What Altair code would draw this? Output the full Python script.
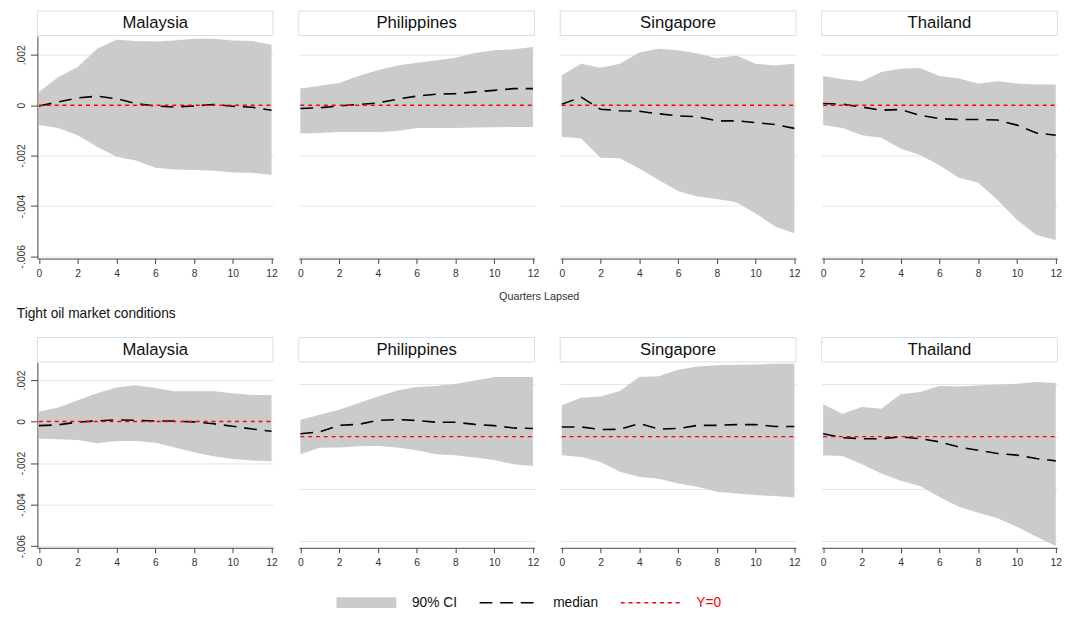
import altair as alt
import pandas as pd

FONT = "Liberation Sans"

quarters = list(range(13))
countries = ["Malaysia", "Philippines", "Singapore", "Thailand"]
row_title = "Tight oil market conditions"
x_title = "Quarters Lapsed"
legend_labels = ["90% CI", "median", "Y=0"]
x_ticks = [0, 2, 4, 6, 8, 10, 12]
y_ticks_full = [-0.006, -0.004, -0.002, 0, 0.002]
y_ticks_short = [-0.004, -0.002, 0, 0.002]

# ---- Top row ----
top_malaysia_hi = [0.00053, 0.00112, 0.00152, 0.00224, 0.00260, 0.00255, 0.00253, 0.00257, 0.00264, 0.00264, 0.00257, 0.00255, 0.00240]
top_malaysia_lo = [-0.00079, -0.00090, -0.00119, -0.00165, -0.00205, -0.00220, -0.00248, -0.00255, -0.00257, -0.00260, -0.00267, -0.00268, -0.00277]
top_malaysia_med = [-0.00003, 0.00013, 0.00029, 0.00036, 0.00026, 0.00007, -0.00003, -0.00007, -0.00003, 0.00003, -0.00004, -0.00008, -0.00020]

top_philippines_hi = [0.00066, 0.00077, 0.00088, 0.00116, 0.00139, 0.00158, 0.00169, 0.00178, 0.00189, 0.00207, 0.00218, 0.00222, 0.00231]
top_philippines_lo = [-0.00112, -0.00110, -0.00106, -0.00106, -0.00106, -0.00102, -0.00090, -0.00090, -0.00090, -0.00088, -0.00087, -0.00086, -0.00086]
top_philippines_med = [-0.00013, -0.00010, -0.00003, 0.00003, 0.00009, 0.00024, 0.00036, 0.00044, 0.00046, 0.00053, 0.00059, 0.00066, 0.00066]

top_singapore_hi = [0.00119, 0.00165, 0.00149, 0.00165, 0.00209, 0.00224, 0.00218, 0.00205, 0.00187, 0.00198, 0.00165, 0.00158, 0.00165]
top_singapore_lo = [-0.00125, -0.00132, -0.00209, -0.00211, -0.00251, -0.00297, -0.00341, -0.00363, -0.00372, -0.00385, -0.00429, -0.00482, -0.00508]
top_singapore_med = [0.00004, 0.00032, -0.00016, -0.00022, -0.00024, -0.00034, -0.00042, -0.00046, -0.00062, -0.00062, -0.00069, -0.00077, -0.00092]

top_thailand_hi = [0.00116, 0.00103, 0.00095, 0.00132, 0.00145, 0.00148, 0.00116, 0.00106, 0.00086, 0.00095, 0.00086, 0.00082, 0.00082]
top_thailand_lo = [-0.00079, -0.00090, -0.00119, -0.00129, -0.00172, -0.00198, -0.00238, -0.00288, -0.00308, -0.00376, -0.00455, -0.00515, -0.00535]
top_thailand_med = [0.00007, 0.00004, -0.00007, -0.00020, -0.00017, -0.00040, -0.00053, -0.00057, -0.00057, -0.00059, -0.00079, -0.00110, -0.00119]

# ---- Bottom row: tight oil market conditions ----
tight_malaysia_hi = [0.00047, 0.00067, 0.00102, 0.00136, 0.00164, 0.00175, 0.00161, 0.00145, 0.00145, 0.00145, 0.00136, 0.00128, 0.00128]
tight_malaysia_lo = [-0.00083, -0.00086, -0.00089, -0.00105, -0.00094, -0.00094, -0.00102, -0.00125, -0.00148, -0.00167, -0.00180, -0.00188, -0.00191]
tight_malaysia_med = [-0.00020, -0.00016, -0.00003, 0.00003, 0.00008, 0.00006, 0.00002, 0.00002, -0.00002, -0.00011, -0.00023, -0.00036, -0.00047]

tight_philippines_hi = [0.00065, 0.00084, 0.00103, 0.00129, 0.00154, 0.00177, 0.00190, 0.00194, 0.00202, 0.00215, 0.00228, 0.00228, 0.00228]
tight_philippines_lo = [-0.00068, -0.00043, -0.00042, -0.00037, -0.00036, -0.00042, -0.00052, -0.00068, -0.00071, -0.00080, -0.00090, -0.00106, -0.00113]
tight_philippines_med = [0.00011, 0.00018, 0.00043, 0.00047, 0.00062, 0.00065, 0.00062, 0.00055, 0.00055, 0.00047, 0.00042, 0.00033, 0.00031]

tight_singapore_hi = [0.00120, 0.00149, 0.00154, 0.00175, 0.00228, 0.00231, 0.00256, 0.00269, 0.00273, 0.00275, 0.00276, 0.00279, 0.00279]
tight_singapore_lo = [-0.00071, -0.00078, -0.00097, -0.00135, -0.00154, -0.00161, -0.00180, -0.00192, -0.00211, -0.00218, -0.00224, -0.00228, -0.00233]
tight_singapore_med = [0.00037, 0.00037, 0.00027, 0.00028, 0.00050, 0.00029, 0.00031, 0.00043, 0.00043, 0.00046, 0.00046, 0.00039, 0.00039]

tight_thailand_hi = [0.00124, 0.00088, 0.00113, 0.00107, 0.00162, 0.00171, 0.00194, 0.00192, 0.00196, 0.00200, 0.00203, 0.00209, 0.00205]
tight_thailand_lo = [-0.00071, -0.00074, -0.00106, -0.00141, -0.00169, -0.00189, -0.00231, -0.00269, -0.00292, -0.00313, -0.00345, -0.00384, -0.00419]
tight_thailand_med = [0.00011, -0.00004, -0.00008, -0.00008, -0.00001, -0.00008, -0.00020, -0.00040, -0.00052, -0.00065, -0.00071, -0.00084, -0.00093]

top_domain = [-0.00609, 0.00275]
tight_domain_first = [-0.00608, 0.00284]
tight_domain_other = [-0.00426, 0.00284]

W = 240.4
SP = 19.6
GRID = "#e4e4e4"
AXC = "#444444"
LABC = "#333333"
CI_FILL = "#cbcbcb"

y_label_expr = ("datum.value == 0 ? '0' : (datum.value < 0 ? '-' : '') + "
                "replace(format(abs(datum.value), '.3f'), '0.', '.')")


def panel(name, lo, hi, med, domain, yticks, height, show_y):
    df = pd.DataFrame({"q": quarters, "lo": lo, "hi": hi, "med": med})
    xenc = alt.X(
        "q:Q",
        scale=alt.Scale(domain=[-0.08, 12.08], nice=False, zero=False),
        axis=alt.Axis(values=x_ticks, title=None, grid=False, tickSize=5,
                      labelPadding=5.5, labelFontSize=10.5, labelFont=FONT,
                      labelColor=LABC, domainColor=AXC, tickColor=AXC,
                      labelFlush=False, format="d"),
    )
    yscale = alt.Scale(domain=domain, nice=False, zero=False)
    if show_y:
        yaxis = alt.Axis(values=yticks, title=None, grid=True, gridColor=GRID,
                         labelAngle=270, labelAlign="center", labelBaseline="bottom",
                         labelPadding=4, tickSize=7, labelExpr=y_label_expr,
                         labelFontSize=10.5, labelFont=FONT, labelColor=LABC,
                         domainColor=AXC, tickColor=AXC)
    else:
        yaxis = alt.Axis(values=yticks, title=None, grid=True, gridColor=GRID,
                         labels=False, ticks=False, domain=False)
    area = alt.Chart(df).mark_area(color=CI_FILL, opacity=1).encode(
        x=xenc, y=alt.Y("lo:Q", scale=yscale, axis=yaxis), y2="hi:Q")
    line = alt.Chart(df).mark_line(color="black", strokeDash=[13, 8], strokeWidth=1.6).encode(
        x="q:Q", y="med:Q")
    hdr = pd.DataFrame({"name": [name]})
    zero = alt.Chart(hdr).mark_rule(color="red", strokeDash=[4, 4], strokeWidth=1.4).encode(
        x=alt.datum(0), x2=alt.datum(12), y=alt.datum(0))
    box = alt.Chart(hdr).mark_rect(fill="white", stroke="#d3dee9", strokeWidth=1).encode(
        x=alt.value(0), x2=alt.value(W), y=alt.value(-25.5), y2=alt.value(-0.5))
    txt = alt.Chart(hdr).mark_text(fontSize=17, font=FONT, color="#111111").encode(
        text="name:N", x=alt.value(W / 2), y=alt.value(-13))
    return alt.layer(area, line, zero, box, txt).properties(width=W, height=height)


top_data = [
    (top_malaysia_lo, top_malaysia_hi, top_malaysia_med),
    (top_philippines_lo, top_philippines_hi, top_philippines_med),
    (top_singapore_lo, top_singapore_hi, top_singapore_med),
    (top_thailand_lo, top_thailand_hi, top_thailand_med),
]
tight_data = [
    (tight_malaysia_lo, tight_malaysia_hi, tight_malaysia_med),
    (tight_philippines_lo, tight_philippines_hi, tight_philippines_med),
    (tight_singapore_lo, tight_singapore_hi, tight_singapore_med),
    (tight_thailand_lo, tight_thailand_hi, tight_thailand_med),
]

top_panels = [
    panel(c, lo, hi, md, top_domain, y_ticks_full, 227, i == 0)
    for i, (c, (lo, hi, md)) in enumerate(zip(countries, top_data))
]
tight_panels = [
    panel(c, lo, hi, md,
          tight_domain_first if i == 0 else tight_domain_other,
          y_ticks_full if i == 0 else y_ticks_short, 189, i == 0)
    for i, (c, (lo, hi, md)) in enumerate(zip(countries, tight_data))
]

top_row = alt.hconcat(*top_panels, spacing=SP).resolve_scale(
    x="independent", y="independent").properties(
    title=alt.TitleParams(x_title, orient="bottom", anchor="middle", fontSize=11,
                          fontWeight="normal", font=FONT, color=LABC, offset=12))

tight_row = alt.hconcat(*tight_panels, spacing=SP).resolve_scale(
    x="independent", y="independent").properties(
    title=alt.TitleParams(row_title, orient="top", anchor="start", fontSize=14,
                          fontWeight="normal", font=FONT, color="#111111", offset=16))

# ---- legend ----
one = pd.DataFrame({"label": legend_labels})
LW = 900
LY = 29
DX = -23
txt_style = dict(align="left", baseline="middle", fontSize=14, font=FONT)
leg_rect = alt.Chart(one.iloc[[0]]).mark_rect(fill=CI_FILL).encode(
    x=alt.value(328 + DX), x2=alt.value(389 + DX), y=alt.value(LY - 5.5), y2=alt.value(LY + 5.5))
leg_t1 = alt.Chart(one.iloc[[0]]).mark_text(color="#111111", **txt_style).encode(
    text="label:N", x=alt.value(405 + DX), y=alt.value(LY))
leg_dash = alt.Chart(one.iloc[[1]]).mark_rule(color="black", strokeDash=[13, 8], strokeWidth=1.6).encode(
    x=alt.value(474 + DX), x2=alt.value(533 + DX), y=alt.value(LY))
leg_t2 = alt.Chart(one.iloc[[1]]).mark_text(color="#111111", **txt_style).encode(
    text="label:N", x=alt.value(549 + DX), y=alt.value(LY))
leg_red = alt.Chart(one.iloc[[2]]).mark_rule(color="red", strokeDash=[4, 4], strokeWidth=1.4).encode(
    x=alt.value(618 + DX), x2=alt.value(678 + DX), y=alt.value(LY))
leg_t3 = alt.Chart(one.iloc[[2]]).mark_text(color="red", **txt_style).encode(
    text="label:N", x=alt.value(695 + DX), y=alt.value(LY))
legend = alt.layer(leg_rect, leg_t1, leg_dash, leg_t2, leg_red, leg_t3).properties(
    width=LW, height=36)

chart = alt.vconcat(top_row, tight_row, legend, spacing=6).properties(
    padding={"left": 8, "top": -3.5, "right": 0, "bottom": 0}, background="white"
).configure_view(stroke=None)

chart.save("out.html", embed_options={"renderer": "svg", "actions": False})
